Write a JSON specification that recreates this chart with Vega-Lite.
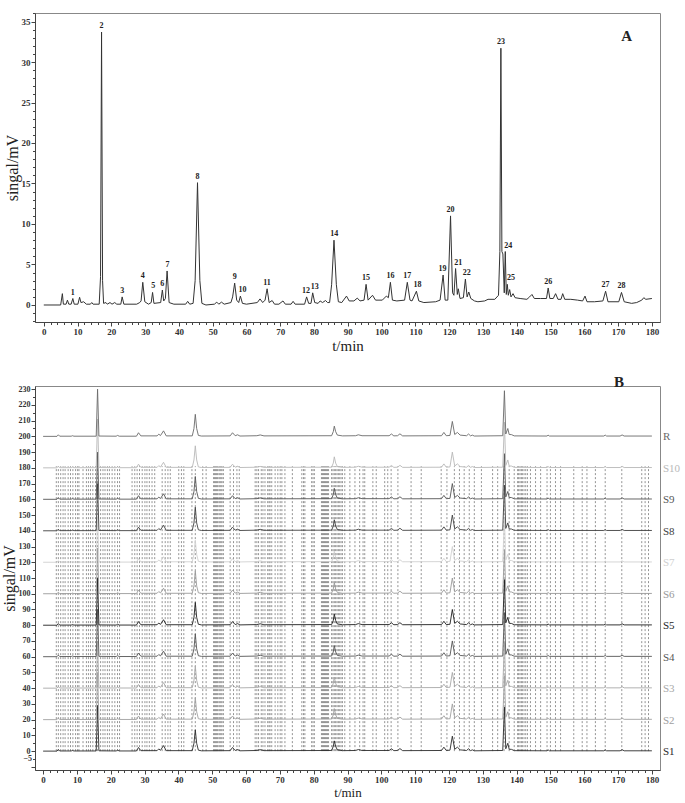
{
"$schema": "https://vega.github.io/schema/vega-lite/v6.json",
"padding": {"left": 0, "top": 8, "right": 0, "bottom": 0},
"spacing": 20,
"config": {
  "font": "Liberation Serif",
  "view": {"stroke": "#888", "strokeWidth": 1},
  "axis": {"labelFont": "Liberation Serif", "labelFontSize": 9, "labelFontWeight": "bold", "labelColor": "#333", "titleFont": "Liberation Serif", "titleFontWeight": "normal", "titleFontSize": 16, "titleColor": "#222", "domainColor": "#444", "tickColor": "#444", "grid": false, "labelOverlap": false, "labelFlush": false, "labelPadding": 1, "format": "d"}
},
"vconcat": [
{
  "width": 625, "height": 309,
  "layer": [
    {
      "data": {"values": [
{"t":0,"v":0},{"t":5.0,"v":0},{"t":5.5,"v":1.4},{"t":5.8,"v":0.1},{"t":6.6,"v":0.1},{"t":7.0,"v":0.6},{"t":7.4,"v":0.1},{"t":8.1,"v":0.1},{"t":8.6,"v":0.8},{"t":9.0,"v":0.1},{"t":10.1,"v":0.1},{"t":10.6,"v":0.95},{"t":11.0,"v":0.3},{"t":11.8,"v":0.4},{"t":12.6,"v":0.1},{"t":13.8,"v":0.1},{"t":14.2,"v":0.3},{"t":14.6,"v":0.1},{"t":16.4,"v":0.1},{"t":16.8,"v":3.5},{"t":17.1,"v":33.7},{"t":17.4,"v":3.0},{"t":17.7,"v":0.2},{"t":18.4,"v":0.3},{"t":18.8,"v":0.1},{"t":19.6,"v":0.3},{"t":20.2,"v":0.1},{"t":21,"v":0.3},{"t":21.6,"v":0.1},{"t":22.8,"v":0.1},{"t":23.2,"v":1.0},{"t":23.7,"v":0.1},{"t":27.5,"v":0.1},{"t":28.4,"v":0.3},{"t":28.8,"v":0.5},{"t":29.3,"v":2.8},{"t":29.9,"v":0.4},{"t":31.0,"v":0.1},{"t":31.8,"v":0.3},{"t":32.2,"v":1.55},{"t":32.6,"v":0.2},{"t":34.6,"v":0.3},{"t":35.1,"v":1.85},{"t":35.5,"v":0.5},{"t":36.0,"v":0.8},{"t":36.5,"v":4.2},{"t":37.1,"v":0.3},{"t":38.5,"v":0.1},{"t":42.0,"v":0.1},{"t":42.6,"v":0.45},{"t":43.2,"v":0.1},{"t":44.2,"v":0.2},{"t":44.8,"v":3},{"t":45.5,"v":15.1},{"t":46.2,"v":3},{"t":46.8,"v":0.2},{"t":48,"v":0},{"t":50.5,"v":0.1},{"t":51.2,"v":0.35},{"t":51.8,"v":0.1},{"t":52.6,"v":0.35},{"t":53.4,"v":0.1},{"t":55.4,"v":0.3},{"t":55.9,"v":1.0},{"t":56.5,"v":2.7},{"t":57.1,"v":0.6},{"t":57.7,"v":0.3},{"t":58.2,"v":1.1},{"t":58.8,"v":0.2},{"t":60,"v":0.1},{"t":63.2,"v":0.3},{"t":64.0,"v":0.75},{"t":64.8,"v":0.3},{"t":65.5,"v":0.6},{"t":66.1,"v":2.0},{"t":66.7,"v":0.3},{"t":67.6,"v":0.55},{"t":68.3,"v":0.1},{"t":69.6,"v":0.1},{"t":70.8,"v":0.5},{"t":71.5,"v":0.1},{"t":73.2,"v":0.1},{"t":73.8,"v":0.45},{"t":74.4,"v":0.1},{"t":77.2,"v":0.1},{"t":77.8,"v":1.0},{"t":78.4,"v":0.2},{"t":79.1,"v":0.2},{"t":79.6,"v":1.5},{"t":80.2,"v":0.3},{"t":81.2,"v":0.2},{"t":81.8,"v":0.5},{"t":82.5,"v":0.3},{"t":83.4,"v":0.55},{"t":84.0,"v":0.3},{"t":84.6,"v":0.3},{"t":85.2,"v":2.5},{"t":85.9,"v":8.0},{"t":86.6,"v":2.5},{"t":87.2,"v":0.4},{"t":88.2,"v":0.3},{"t":89.6,"v":1.1},{"t":90.4,"v":0.5},{"t":91.8,"v":0.5},{"t":92.8,"v":0.85},{"t":93.6,"v":0.5},{"t":94.8,"v":0.6},{"t":95.4,"v":2.55},{"t":96.0,"v":0.6},{"t":97.3,"v":1.2},{"t":98.2,"v":0.6},{"t":100.2,"v":0.6},{"t":101.4,"v":1.1},{"t":102.0,"v":0.9},{"t":102.6,"v":2.8},{"t":103.2,"v":0.6},{"t":104.5,"v":0.5},{"t":106.8,"v":0.6},{"t":107.6,"v":2.8},{"t":108.4,"v":0.6},{"t":109.0,"v":0.5},{"t":110.3,"v":1.7},{"t":111.0,"v":0.5},{"t":112.5,"v":0.3},{"t":116,"v":0.4},{"t":117.3,"v":0.6},{"t":118.2,"v":3.7},{"t":118.8,"v":0.6},{"t":119.6,"v":0.6},{"t":120.4,"v":11.0},{"t":121.0,"v":1.5},{"t":121.4,"v":1.2},{"t":121.9,"v":4.5},{"t":122.4,"v":1.3},{"t":122.7,"v":2.0},{"t":123.2,"v":0.8},{"t":124.2,"v":0.9},{"t":124.8,"v":3.2},{"t":125.3,"v":1.0},{"t":125.8,"v":1.6},{"t":126.4,"v":0.8},{"t":127.5,"v":0.5},{"t":128.5,"v":0.4},{"t":130.5,"v":0.5},{"t":131.5,"v":0.7},{"t":133.5,"v":0.7},{"t":134.6,"v":1.2},{"t":135.0,"v":6.6},{"t":135.3,"v":31.7},{"t":135.6,"v":6.6},{"t":135.9,"v":6.3},{"t":136.3,"v":1.5},{"t":136.6,"v":6.6},{"t":136.9,"v":1.3},{"t":137.2,"v":2.55},{"t":137.5,"v":1.2},{"t":137.9,"v":1.9},{"t":138.3,"v":1.0},{"t":138.9,"v":1.4},{"t":139.5,"v":0.9},{"t":141,"v":0.8},{"t":143,"v":0.7},{"t":143.8,"v":1.0},{"t":144.5,"v":1.3},{"t":145.2,"v":0.8},{"t":147,"v":0.8},{"t":148.8,"v":0.8},{"t":149.3,"v":2.1},{"t":149.8,"v":0.8},{"t":150.8,"v":0.8},{"t":151.5,"v":1.4},{"t":152.2,"v":0.7},{"t":153.1,"v":0.7},{"t":153.6,"v":1.4},{"t":154.2,"v":0.7},{"t":156,"v":0.7},{"t":158,"v":0.6},{"t":159.5,"v":0.5},{"t":160.2,"v":1.1},{"t":160.8,"v":0.4},{"t":163,"v":0.4},{"t":165.5,"v":0.5},{"t":166.3,"v":1.7},{"t":167,"v":0.4},{"t":170.2,"v":0.4},{"t":171.0,"v":1.55},{"t":171.8,"v":0.4},{"t":174,"v":0.2},{"t":175.5,"v":0.3},{"t":177,"v":0.6},{"t":177.6,"v":0.9},{"t":178.2,"v":0.7},{"t":180,"v":0.8}
      ]},
      "mark": {"type": "line", "color": "#333", "strokeWidth": 1},
      "encoding": {
        "x": {"field": "t", "type": "quantitative", "title": "t/min",
              "scale": {"domain": [-2.6, 182.4], "nice": false, "zero": false},
              "axis": {"values": [0,2,4,6,8,10,12,14,16,18,20,22,24,26,28,30,32,34,36,38,40,42,44,46,48,50,52,54,56,58,60,62,64,66,68,70,72,74,76,78,80,82,84,86,88,90,92,94,96,98,100,102,104,106,108,110,112,114,116,118,120,122,124,126,128,130,132,134,136,138,140,142,144,146,148,150,152,154,156,158,160,162,164,166,168,170,172,174,176,178,180],
                       "tickCount": 500, "format": "d",
                       "labelExpr": "datum.value % 10 === 0 ? datum.label : ''",
                       "labelOverlap": false,
                       "tickSize": {"condition": {"test": "datum.value % 10 === 0", "value": 4}, "value": 2.5},
                       "titleFontSize": 15,
                       "titlePadding": 2}},
        "y": {"field": "v", "type": "quantitative", "title": "singal/mV",
              "scale": {"domain": [-2.1, 36.05], "nice": false, "zero": false},
              "axis": {"values": [-2,-1,0,1,2,3,4,5,6,7,8,9,10,11,12,13,14,15,16,17,18,19,20,21,22,23,24,25,26,27,28,29,30,31,32,33,34,35,36],
                       "tickCount": 500, "format": "d",
                       "labelExpr": "datum.value % 5 === 0 ? datum.label : ''",
                       "labelOverlap": false,
                       "tickSize": {"condition": {"test": "datum.value % 5 === 0", "value": 4}, "value": 2.5},
                       "titlePadding": 1}}
      }
    },
    {
      "data": {"values": [
{"n":"1","t":8.6,"v":0.8},{"n":"2","t":17.1,"v":33.7},{"n":"3","t":23.2,"v":1.0},{"n":"4","t":29.3,"v":2.8},{"n":"5","t":32.4,"v":1.55},{"n":"6","t":35.1,"v":1.85},{"n":"7","t":36.6,"v":4.2},{"n":"8","t":45.5,"v":15.1},{"n":"9","t":56.5,"v":2.7},{"n":"10","t":58.8,"v":1.1},{"n":"11","t":66.1,"v":2.0},{"n":"12","t":77.6,"v":1.0},{"n":"13","t":80.2,"v":1.5},{"n":"14","t":86.0,"v":8.0},{"n":"15","t":95.4,"v":2.55},{"n":"16","t":102.6,"v":2.8},{"n":"17","t":107.6,"v":2.8},{"n":"18","t":110.6,"v":1.7},{"n":"19","t":118.0,"v":3.7},{"n":"20","t":120.4,"v":11.0},{"n":"21","t":122.7,"v":4.5},{"n":"22","t":125.2,"v":3.2},{"n":"23","t":135.3,"v":31.7},{"n":"24","t":137.5,"v":6.6},{"n":"25","t":138.3,"v":2.55},{"n":"26","t":149.3,"v":2.1},{"n":"27","t":166.3,"v":1.7},{"n":"28","t":171.0,"v":1.55}
      ]},
      "mark": {"type": "text", "font": "Liberation Serif", "fontWeight": "bold", "fontSize": 8, "baseline": "bottom", "dy": -2, "color": "#222"},
      "encoding": {
        "x": {"field": "t", "type": "quantitative", "title": "t/min"},
        "y": {"field": "v", "type": "quantitative", "title": "singal/mV"},
        "text": {"field": "n"}
      }
    },
    {
      "data": {"values": [{"p": "A"}]},
      "mark": {"type": "text", "font": "Liberation Serif", "fontWeight": "bold", "fontSize": 15, "color": "#222"},
      "encoding": {
        "x": {"datum": 172.5, "type": "quantitative"},
        "y": {"datum": 33.2, "type": "quantitative"},
        "text": {"field": "p"}
      }
    }
  ]
},
{
  "width": 625, "height": 384,
  "layer": [
    {
      "data": {"values": [
{"x":3.9},{"x":4.5},{"x":5.2},{"x":5.9},{"x":6.5},{"x":7.4},{"x":8.1},{"x":8.8},{"x":9.6},{"x":10.2},{"x":10.6},{"x":11.8},{"x":12.8},{"x":13.4},{"x":14.0},{"x":14.7},{"x":15.5},{"x":16.1},{"x":17.0},{"x":17.7},{"x":18.3},{"x":19.0},{"x":19.6},{"x":20.4},{"x":21.2},{"x":22.0},{"x":22.6},{"x":26.3},{"x":27.1},{"x":27.8},{"x":28.5},{"x":29.3},{"x":30.1},{"x":30.7},{"x":31.4},{"x":32.2},{"x":33.0},{"x":35.2},{"x":36.1},{"x":36.9},{"x":37.6},{"x":40.1},{"x":40.9},{"x":41.6},{"x":44.0},{"x":45.0},{"x":47.2},{"x":48.2},{"x":50.4},{"x":50.7},{"x":51.0},{"x":51.3},{"x":51.6},{"x":52.0},{"x":52.3},{"x":52.6},{"x":52.9},{"x":53.3},{"x":55.3},{"x":56.3},{"x":57.3},{"x":58.0},{"x":62.7},{"x":63.2},{"x":63.7},{"x":64.5},{"x":65.0},{"x":65.6},{"x":66.4},{"x":66.8},{"x":67.1},{"x":67.6},{"x":68.6},{"x":69.4},{"x":70.1},{"x":70.6},{"x":71.5},{"x":73.7},{"x":76.5},{"x":77.0},{"x":77.4},{"x":79.4},{"x":79.8},{"x":80.2},{"x":82.3},{"x":82.6},{"x":82.9},{"x":83.2},{"x":83.5},{"x":83.8},{"x":84.1},{"x":84.4},{"x":85.3},{"x":85.7},{"x":86.1},{"x":86.5},{"x":86.9},{"x":87.3},{"x":87.7},{"x":88.1},{"x":88.5},{"x":89.2},{"x":90.7},{"x":92.2},{"x":93.6},{"x":94.6},{"x":95.1},{"x":97.5},{"x":98.5},{"x":101.0},{"x":101.9},{"x":102.9},{"x":104.9},{"x":108.8},{"x":111.8},{"x":117.7},{"x":119.4},{"x":121.6},{"x":123.1},{"x":124.5},{"x":126.0},{"x":127.5},{"x":129.6},{"x":132.9},{"x":134.4},{"x":136.3},{"x":137.8},{"x":139.3},{"x":140.3},{"x":140.6},{"x":141.0},{"x":141.4},{"x":141.7},{"x":142.2},{"x":142.7},{"x":143.2},{"x":144.1},{"x":145.6},{"x":147.1},{"x":149.0},{"x":150.0},{"x":151.5},{"x":153.0},{"x":156.9},{"x":159.4},{"x":160.8},{"x":163.3},{"x":166.2},{"x":171.1},{"x":177.0},{"x":178.0},{"x":179.0}
      ]},
      "mark": {"type": "rule", "color": "#666", "strokeWidth": 0.7, "strokeDash": [2, 2]},
      "encoding": {
        "x": {"field": "x", "type": "quantitative", "title": "t/min",
              "scale": {"domain": [-2.4, 182.4], "nice": false, "zero": false},
              "axis": {"values": [0,2,4,6,8,10,12,14,16,18,20,22,24,26,28,30,32,34,36,38,40,42,44,46,48,50,52,54,56,58,60,62,64,66,68,70,72,74,76,78,80,82,84,86,88,90,92,94,96,98,100,102,104,106,108,110,112,114,116,118,120,122,124,126,128,130,132,134,136,138,140,142,144,146,148,150,152,154,156,158,160,162,164,166,168,170,172,174,176,178,180],
                       "tickCount": 500, "format": "d",
                       "labelExpr": "datum.value % 10 === 0 ? datum.label : ''",
                       "labelOverlap": false,
                       "tickSize": {"condition": {"test": "datum.value % 10 === 0", "value": 4}, "value": 2.5},
                       "titleFontSize": 13,
                       "titlePadding": 2}},
        "y": {"datum": 0, "type": "quantitative", "title": "singal/mV",
              "scale": {"domain": [-12, 232], "nice": false, "zero": false},
              "axis": {"values": [-10,-5,0,5,10,15,20,25,30,35,40,45,50,55,60,65,70,75,80,85,90,95,100,105,110,115,120,125,130,135,140,145,150,155,160,165,170,175,180,185,190,195,200,205,210,215,220,225,230],
                       "tickCount": 500, "format": "d",
                       "labelFontSize": 8,
                       "labelExpr": "(datum.value % 10 === 0 && datum.value >= 0) || datum.value === -5 ? datum.label : ''",
                       "labelOverlap": false,
                       "tickSize": {"condition": {"test": "datum.value % 10 === 0", "value": 4}, "value": 2.5},
                       "titlePadding": 1}},
        "y2": {"datum": 181}
      }
    },
    {
      "data": {"values": [
{"t":0,"S1":0,"S2":20,"S3":40,"S4":60,"S5":80,"S6":100,"S7":120,"S8":140,"S9":160,"S10":180,"R":200},
{"t":4.1,"S1":0,"S2":20,"S3":40,"S4":60,"S5":80,"S6":100,"S7":120,"S8":140,"S9":160,"S10":180,"R":200},
{"t":4.5,"S1":1,"S2":21,"S3":41,"S4":61,"S5":81,"S6":101,"S7":121,"S8":141,"S9":161,"S10":181,"R":201},
{"t":4.9,"S1":0.1,"S2":20.1,"S3":40.1,"S4":60.1,"S5":80.1,"S6":100.1,"S7":120.1,"S8":140.1,"S9":160.1,"S10":180.1,"R":200.1},
{"t":8.3,"S1":0.1,"S2":20.1,"S3":40.1,"S4":60.1,"S5":80.1,"S6":100.1,"S7":120.1,"S8":140.1,"S9":160.1,"S10":180.1,"R":200.1},
{"t":8.7,"S1":0.4,"S2":20.4,"S3":40.4,"S4":60.4,"S5":80.4,"S6":100.4,"S7":120.4,"S8":140.4,"S9":160.4,"S10":180.4,"R":200.4},
{"t":9.1,"S1":0.1,"S2":20.1,"S3":40.1,"S4":60.1,"S5":80.1,"S6":100.1,"S7":120.1,"S8":140.1,"S9":160.1,"S10":180.1,"R":200.1},
{"t":15.7,"S1":0.1,"S2":20.1,"S3":40.1,"S4":60.1,"S5":80.1,"S6":100.1,"S7":120.1,"S8":140.1,"S9":160.1,"S10":180.1,"R":200.1},
{"t":16.1,"S1":29,"S2":50,"S3":69,"S4":90,"S5":110,"S6":129,"S7":149,"S8":170,"S9":190,"S10":211,"R":230},
{"t":16.5,"S1":0.2,"S2":20.2,"S3":40.2,"S4":60.2,"S5":80.2,"S6":100.2,"S7":120.2,"S8":140.2,"S9":160.2,"S10":180.2,"R":200.2},
{"t":21.6,"S1":0.1,"S2":20.1,"S3":40.1,"S4":60.1,"S5":80.1,"S6":100.1,"S7":120.1,"S8":140.1,"S9":160.1,"S10":180.1,"R":200.1},
{"t":22.0,"S1":0.6,"S2":20.6,"S3":40.6,"S4":60.6,"S5":80.6,"S6":100.6,"S7":120.6,"S8":140.6,"S9":160.6,"S10":180.6,"R":200.6},
{"t":22.5,"S1":0.1,"S2":20.1,"S3":40.1,"S4":60.1,"S5":80.1,"S6":100.1,"S7":120.1,"S8":140.1,"S9":160.1,"S10":180.1,"R":200.1},
{"t":27.6,"S1":0.1,"S2":20.1,"S3":40.1,"S4":60.1,"S5":80.1,"S6":100.1,"S7":120.1,"S8":140.1,"S9":160.1,"S10":180.1,"R":200.1},
{"t":28.2,"S1":2.3,"S2":22.3,"S3":42.3,"S4":62.3,"S5":82.3,"S6":102.3,"S7":122.3,"S8":142.3,"S9":162.3,"S10":182.3,"R":202.3},
{"t":28.9,"S1":0.3,"S2":20.3,"S3":40.3,"S4":60.3,"S5":80.3,"S6":100.3,"S7":120.3,"S8":140.3,"S9":160.3,"S10":180.3,"R":200.3},
{"t":33.7,"S1":0.3,"S2":20.3,"S3":40.3,"S4":60.3,"S5":80.3,"S6":100.3,"S7":120.3,"S8":140.3,"S9":160.3,"S10":180.3,"R":200.3},
{"t":34.2,"S1":1.4,"S2":21.4,"S3":41.4,"S4":61.4,"S5":81.4,"S6":101.4,"S7":121.4,"S8":141.4,"S9":161.4,"S10":181.4,"R":201.4},
{"t":34.7,"S1":0.5,"S2":20.5,"S3":40.5,"S4":60.5,"S5":80.5,"S6":100.5,"S7":120.5,"S8":140.5,"S9":160.5,"S10":180.5,"R":200.5},
{"t":35.6,"S1":3.5,"S2":23.5,"S3":43.5,"S4":63.5,"S5":83.5,"S6":103.5,"S7":123.5,"S8":143.5,"S9":163.5,"S10":183.5,"R":203.5},
{"t":36.4,"S1":0.3,"S2":20.3,"S3":40.3,"S4":60.3,"S5":80.3,"S6":100.3,"S7":120.3,"S8":140.3,"S9":160.3,"S10":180.3,"R":200.3},
{"t":44.1,"S1":0.3,"S2":20.3,"S3":40.3,"S4":60.3,"S5":80.3,"S6":100.3,"S7":120.3,"S8":140.3,"S9":160.3,"S10":180.3,"R":200.3},
{"t":44.6,"S1":5,"S2":25,"S3":45,"S4":65,"S5":85,"S6":105,"S7":125,"S8":145,"S9":165,"S10":185,"R":205},
{"t":45.0,"S1":13.5,"S2":34,"S3":54,"S4":74.5,"S5":94.5,"S6":114.5,"S7":134,"S8":155,"S9":174.5,"S10":194,"R":214},
{"t":45.4,"S1":5,"S2":25,"S3":45,"S4":65,"S5":85,"S6":105,"S7":125,"S8":145,"S9":165,"S10":185,"R":205},
{"t":45.9,"S1":0.6,"S2":20.6,"S3":40.6,"S4":60.6,"S5":80.6,"S6":100.6,"S7":120.6,"S8":140.6,"S9":160.6,"S10":180.6,"R":200.6},
{"t":46.8,"S1":0.2,"S2":20.2,"S3":40.2,"S4":60.2,"S5":80.2,"S6":100.2,"S7":120.2,"S8":140.2,"S9":160.2,"S10":180.2,"R":200.2},
{"t":55.3,"S1":0.3,"S2":20.3,"S3":40.3,"S4":60.3,"S5":80.3,"S6":100.3,"S7":120.3,"S8":140.3,"S9":160.3,"S10":180.3,"R":200.3},
{"t":56.0,"S1":2.3,"S2":22.3,"S3":42.3,"S4":62.3,"S5":82.3,"S6":102.3,"S7":122.3,"S8":142.3,"S9":162.3,"S10":182.3,"R":202.3},
{"t":56.8,"S1":0.4,"S2":20.4,"S3":40.4,"S4":60.4,"S5":80.4,"S6":100.4,"S7":120.4,"S8":140.4,"S9":160.4,"S10":180.4,"R":200.4},
{"t":57.5,"S1":1,"S2":21,"S3":41,"S4":61,"S5":81,"S6":101,"S7":121,"S8":141,"S9":161,"S10":181,"R":201},
{"t":58.2,"S1":0.2,"S2":20.2,"S3":40.2,"S4":60.2,"S5":80.2,"S6":100.2,"S7":120.2,"S8":140.2,"S9":160.2,"S10":180.2,"R":200.2},
{"t":63.2,"S1":0.4,"S2":20.4,"S3":40.4,"S4":60.4,"S5":80.4,"S6":100.4,"S7":120.4,"S8":140.4,"S9":160.4,"S10":180.4,"R":200.4},
{"t":64.2,"S1":0.9,"S2":20.9,"S3":40.9,"S4":60.9,"S5":80.9,"S6":100.9,"S7":120.9,"S8":140.9,"S9":160.9,"S10":180.9,"R":200.9},
{"t":65.3,"S1":0.3,"S2":20.3,"S3":40.3,"S4":60.3,"S5":80.3,"S6":100.3,"S7":120.3,"S8":140.3,"S9":160.3,"S10":180.3,"R":200.3},
{"t":85.3,"S1":0.4,"S2":20.4,"S3":40.4,"S4":60.4,"S5":80.4,"S6":100.4,"S7":120.4,"S8":140.4,"S9":160.4,"S10":180.4,"R":200.4},
{"t":85.8,"S1":3,"S2":23,"S3":43,"S4":63,"S5":83,"S6":103,"S7":123,"S8":143,"S9":163,"S10":183,"R":203},
{"t":86.1,"S1":6.5,"S2":27,"S3":47,"S4":67,"S5":87,"S6":107,"S7":127,"S8":147,"S9":167,"S10":187,"R":206.5},
{"t":86.5,"S1":3,"S2":23,"S3":43,"S4":63,"S5":83,"S6":103,"S7":123,"S8":143,"S9":163,"S10":183,"R":203},
{"t":87.0,"S1":0.8,"S2":20.8,"S3":40.8,"S4":60.8,"S5":80.8,"S6":100.8,"S7":120.8,"S8":140.8,"S9":160.8,"S10":180.8,"R":200.8},
{"t":88.5,"S1":0.3,"S2":20.3,"S3":40.3,"S4":60.3,"S5":80.3,"S6":100.3,"S7":120.3,"S8":140.3,"S9":160.3,"S10":180.3,"R":200.3},
{"t":92.4,"S1":0.4,"S2":20.4,"S3":40.4,"S4":60.4,"S5":80.4,"S6":100.4,"S7":120.4,"S8":140.4,"S9":160.4,"S10":180.4,"R":200.4},
{"t":93.2,"S1":1,"S2":21,"S3":41,"S4":61,"S5":81,"S6":101,"S7":121,"S8":141,"S9":161,"S10":181,"R":201},
{"t":94.3,"S1":0.4,"S2":20.4,"S3":40.4,"S4":60.4,"S5":80.4,"S6":100.4,"S7":120.4,"S8":140.4,"S9":160.4,"S10":180.4,"R":200.4},
{"t":102.3,"S1":0.4,"S2":20.4,"S3":40.4,"S4":60.4,"S5":80.4,"S6":100.4,"S7":120.4,"S8":140.4,"S9":160.4,"S10":180.4,"R":200.4},
{"t":103.0,"S1":1.5,"S2":21.5,"S3":41.5,"S4":61.5,"S5":81.5,"S6":101.5,"S7":121.5,"S8":141.5,"S9":161.5,"S10":181.5,"R":201.5},
{"t":103.7,"S1":0.3,"S2":20.3,"S3":40.3,"S4":60.3,"S5":80.3,"S6":100.3,"S7":120.3,"S8":140.3,"S9":160.3,"S10":180.3,"R":200.3},
{"t":104.8,"S1":0.4,"S2":20.4,"S3":40.4,"S4":60.4,"S5":80.4,"S6":100.4,"S7":120.4,"S8":140.4,"S9":160.4,"S10":180.4,"R":200.4},
{"t":105.5,"S1":1.6,"S2":21.6,"S3":41.6,"S4":61.6,"S5":81.6,"S6":101.6,"S7":121.6,"S8":141.6,"S9":161.6,"S10":181.6,"R":201.6},
{"t":106.3,"S1":0.3,"S2":20.3,"S3":40.3,"S4":60.3,"S5":80.3,"S6":100.3,"S7":120.3,"S8":140.3,"S9":160.3,"S10":180.3,"R":200.3},
{"t":117.8,"S1":0.4,"S2":20.4,"S3":40.4,"S4":60.4,"S5":80.4,"S6":100.4,"S7":120.4,"S8":140.4,"S9":160.4,"S10":180.4,"R":200.4},
{"t":118.5,"S1":2.5,"S2":22.5,"S3":42.5,"S4":62.5,"S5":82.5,"S6":102.5,"S7":122.5,"S8":142.5,"S9":162.5,"S10":182.5,"R":202.5},
{"t":119.2,"S1":0.4,"S2":20.4,"S3":40.4,"S4":60.4,"S5":80.4,"S6":100.4,"S7":120.4,"S8":140.4,"S9":160.4,"S10":180.4,"R":200.4},
{"t":120.3,"S1":0.6,"S2":20.6,"S3":40.6,"S4":60.6,"S5":80.6,"S6":100.6,"S7":120.6,"S8":140.6,"S9":160.6,"S10":180.6,"R":200.6},
{"t":121.0,"S1":9.5,"S2":30,"S3":50,"S4":70,"S5":90,"S6":110,"S7":130,"S8":150,"S9":170,"S10":190,"R":209.5},
{"t":121.7,"S1":1.2,"S2":21.2,"S3":41.2,"S4":61.2,"S5":81.2,"S6":101.2,"S7":121.2,"S8":141.2,"S9":161.2,"S10":181.2,"R":201.2},
{"t":122.5,"S1":2.5,"S2":22.5,"S3":42.5,"S4":62.5,"S5":82.5,"S6":102.5,"S7":122.5,"S8":142.5,"S9":162.5,"S10":182.5,"R":202.5},
{"t":123.3,"S1":0.8,"S2":20.8,"S3":40.8,"S4":60.8,"S5":80.8,"S6":100.8,"S7":120.8,"S8":140.8,"S9":160.8,"S10":180.8,"R":200.8},
{"t":125.2,"S1":0.4,"S2":20.4,"S3":40.4,"S4":60.4,"S5":80.4,"S6":100.4,"S7":120.4,"S8":140.4,"S9":160.4,"S10":180.4,"R":200.4},
{"t":125.8,"S1":1.5,"S2":21.5,"S3":41.5,"S4":61.5,"S5":81.5,"S6":101.5,"S7":121.5,"S8":141.5,"S9":161.5,"S10":181.5,"R":201.5},
{"t":126.4,"S1":0.3,"S2":20.3,"S3":40.3,"S4":60.3,"S5":80.3,"S6":100.3,"S7":120.3,"S8":140.3,"S9":160.3,"S10":180.3,"R":200.3},
{"t":126.9,"S1":0.8,"S2":20.8,"S3":40.8,"S4":60.8,"S5":80.8,"S6":100.8,"S7":120.8,"S8":140.8,"S9":160.8,"S10":180.8,"R":200.8},
{"t":127.5,"S1":0.2,"S2":20.2,"S3":40.2,"S4":60.2,"S5":80.2,"S6":100.2,"S7":120.2,"S8":140.2,"S9":160.2,"S10":180.2,"R":200.2},
{"t":135.9,"S1":0.4,"S2":20.4,"S3":40.4,"S4":60.4,"S5":80.4,"S6":100.4,"S7":120.4,"S8":140.4,"S9":160.4,"S10":180.4,"R":200.4},
{"t":136.4,"S1":28,"S2":48,"S3":69,"S4":88,"S5":109,"S6":128,"S7":148,"S8":169,"S9":189,"S10":209,"R":229},
{"t":136.8,"S1":1.5,"S2":21.5,"S3":41.5,"S4":61.5,"S5":81.5,"S6":101.5,"S7":121.5,"S8":141.5,"S9":161.5,"S10":181.5,"R":201.5},
{"t":137.4,"S1":5,"S2":25,"S3":45,"S4":65,"S5":85,"S6":105,"S7":125,"S8":145,"S9":165,"S10":185,"R":205},
{"t":137.8,"S1":1.2,"S2":21.2,"S3":41.2,"S4":61.2,"S5":81.2,"S6":101.2,"S7":121.2,"S8":141.2,"S9":161.2,"S10":181.2,"R":201.2},
{"t":138.5,"S1":1.1,"S2":21.1,"S3":41.1,"S4":61.1,"S5":81.1,"S6":101.1,"S7":121.1,"S8":141.1,"S9":161.1,"S10":181.1,"R":201.1},
{"t":139.3,"S1":0.3,"S2":20.3,"S3":40.3,"S4":60.3,"S5":80.3,"S6":100.3,"S7":120.3,"S8":140.3,"S9":160.3,"S10":180.3,"R":200.3},
{"t":149.0,"S1":0.2,"S2":20.2,"S3":40.2,"S4":60.2,"S5":80.2,"S6":100.2,"S7":120.2,"S8":140.2,"S9":160.2,"S10":180.2,"R":200.2},
{"t":149.3,"S1":0.8,"S2":20.8,"S3":40.8,"S4":60.8,"S5":80.8,"S6":100.8,"S7":120.8,"S8":140.8,"S9":160.8,"S10":180.8,"R":200.8},
{"t":149.7,"S1":0.2,"S2":20.2,"S3":40.2,"S4":60.2,"S5":80.2,"S6":100.2,"S7":120.2,"S8":140.2,"S9":160.2,"S10":180.2,"R":200.2},
{"t":165.8,"S1":0.2,"S2":20.2,"S3":40.2,"S4":60.2,"S5":80.2,"S6":100.2,"S7":120.2,"S8":140.2,"S9":160.2,"S10":180.2,"R":200.2},
{"t":166.2,"S1":0.8,"S2":20.8,"S3":40.8,"S4":60.8,"S5":80.8,"S6":100.8,"S7":120.8,"S8":140.8,"S9":160.8,"S10":180.8,"R":200.8},
{"t":166.6,"S1":0.2,"S2":20.2,"S3":40.2,"S4":60.2,"S5":80.2,"S6":100.2,"S7":120.2,"S8":140.2,"S9":160.2,"S10":180.2,"R":200.2},
{"t":170.6,"S1":0.2,"S2":20.2,"S3":40.2,"S4":60.2,"S5":80.2,"S6":100.2,"S7":120.2,"S8":140.2,"S9":160.2,"S10":180.2,"R":200.2},
{"t":171.2,"S1":0.9,"S2":20.9,"S3":40.9,"S4":60.9,"S5":80.9,"S6":100.9,"S7":120.9,"S8":140.9,"S9":160.9,"S10":180.9,"R":200.9},
{"t":171.8,"S1":0.2,"S2":20.2,"S3":40.2,"S4":60.2,"S5":80.2,"S6":100.2,"S7":120.2,"S8":140.2,"S9":160.2,"S10":180.2,"R":200.2},
{"t":180,"S1":0.2,"S2":20.2,"S3":40.2,"S4":60.2,"S5":80.2,"S6":100.2,"S7":120.2,"S8":140.2,"S9":160.2,"S10":180.2,"R":200.2}
      ]},
      "transform": [{"fold": ["S1","S2","S3","S4","S5","S6","S7","S8","S9","S10","R"], "as": ["s", "v"]}],
      "mark": {"type": "line", "strokeWidth": 0.9},
      "encoding": {
        "x": {"field": "t", "type": "quantitative", "title": "t/min"},
        "y": {"field": "v", "type": "quantitative", "title": "singal/mV"},
        "color": {"field": "s", "type": "nominal", "legend": null,
                  "scale": {"domain": ["R","S10","S9","S8","S7","S6","S5","S4","S3","S2","S1"],
                            "range": ["#6a6a6a","#b8b8b8","#555555","#404040","#d0d0d0","#9a9a9a","#1e1e1e","#555555","#a8a8a8","#a0a0a0","#2a2a2a"]}}
      }
    },
    {
      "data": {"values": [
{"s":"R","b":200},{"s":"S10","b":180},{"s":"S9","b":160},{"s":"S8","b":140},{"s":"S7","b":120},{"s":"S6","b":100},{"s":"S5","b":80},{"s":"S4","b":60},{"s":"S3","b":40},{"s":"S2","b":20},{"s":"S1","b":0}
      ]},
      "mark": {"type": "text", "font": "Liberation Serif", "fontSize": 11, "align": "left", "baseline": "middle", "dx": 3, "dy": 1},
      "encoding": {
        "x": {"datum": 182.4, "type": "quantitative"},
        "y": {"field": "b", "type": "quantitative", "title": "singal/mV"},
        "text": {"field": "s"},
        "color": {"field": "s", "type": "nominal", "legend": null}
      }
    },
    {
      "data": {"values": [{"p": "B"}]},
      "mark": {"type": "text", "font": "Liberation Serif", "fontWeight": "bold", "fontSize": 15, "color": "#222"},
      "encoding": {
        "x": {"datum": 170.3, "type": "quantitative"},
        "y": {"datum": 234.5, "type": "quantitative"},
        "text": {"field": "p"}
      }
    }
  ]
}
]
}
